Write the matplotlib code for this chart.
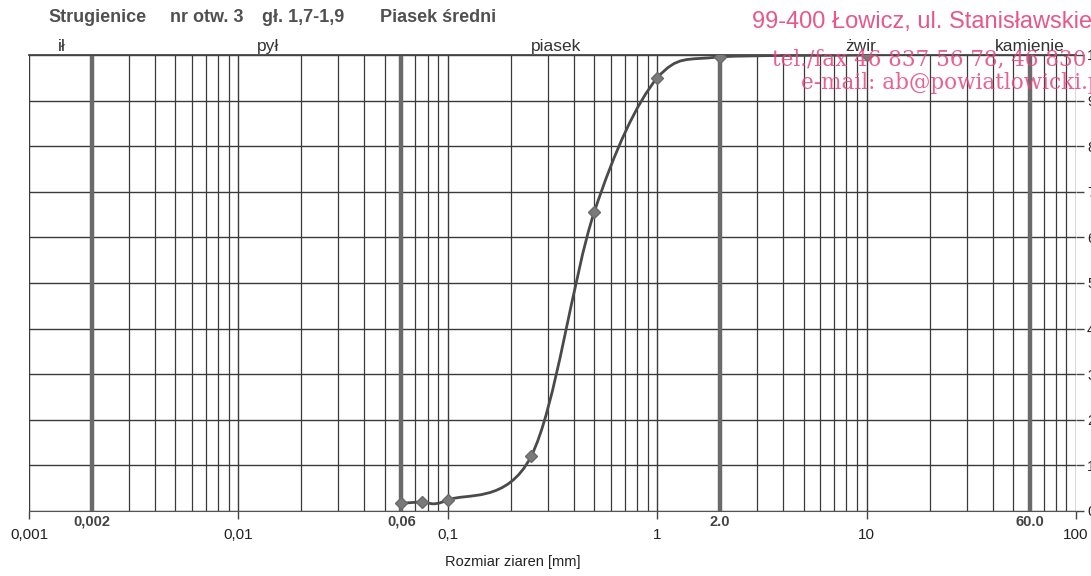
import numpy as np
import matplotlib
matplotlib.use("Agg")
import matplotlib.pyplot as plt
from matplotlib.path import Path
from matplotlib.patches import PathPatch

# ---- data ----
sizes_mm = [0.06, 0.075, 0.1, 0.25, 0.5, 1.0, 2.0, 10.0]
passing_pct = [1.7, 2.0, 2.4, 12.0, 65.5, 95.0, 99.6, 100.0]
fraction_bounds = [0.002, 0.06, 2.0, 60.0]
fraction_bound_labels = ["0,002", "0,06", "2.0", "60.0"]
fraction_names = ["ił", "pył", "piasek", "żwir", "kamienie"]
fraction_name_x = [0.00144, 0.0138, 0.33, 9.4, 60.0]
major_ticks = [0.001, 0.01, 0.1, 1, 10, 100]
major_tick_labels = ["0,001", "0,01", "0,1", "1", "10", "100"]
y_ticks = list(range(0, 101, 10))
title_parts = ["Strugienice", "nr otw. 3", "gł. 1,7-1,9", "Piasek średni"]
title_part_px = [48, 170, 262, 380]

plt.rcParams['font.family'] = ['Liberation Sans', 'DejaVu Sans']

fig = plt.figure(figsize=(10.91, 5.76), dpi=100)
ax = fig.add_axes([29/1091, 1 - 511/576, (1076-29)/1091, (511-55)/576])
ax.set_xscale('log')
ax.set_xlim(0.001, 100)
ax.set_ylim(0, 100)

grid_c = '#3a3a3a'
ax.xaxis.set_major_locator(matplotlib.ticker.FixedLocator(major_ticks))
ax.xaxis.set_minor_locator(matplotlib.ticker.LogLocator(base=10, subs=np.arange(2, 10)))
ax.grid(True, which='major', axis='x', color=grid_c, lw=1.0)
ax.grid(True, which='minor', axis='x', color=grid_c, lw=0.9)
ax.set_yticks(y_ticks)
ax.grid(True, which='major', axis='y', color=grid_c, lw=1.0)
ax.set_axisbelow(True)

ax.set_xticks(major_ticks)
ax.set_xticklabels(major_tick_labels, fontsize=11, color='#222222')
ax.tick_params(axis='x', which='major', length=6, width=1, color='#444444', pad=6)
ax.tick_params(axis='x', which='minor', length=0)
ax.yaxis.tick_right()
ax.set_yticklabels([str(v) for v in y_ticks], fontsize=10.5, color='#222222')
ax.tick_params(axis='y', length=6, width=1, color='#444444', pad=2)

for s in ['left', 'right']:
    ax.spines[s].set_visible(False)
ax.spines['bottom'].set_color('#555555')
ax.spines['top'].set_color('#444444')
ax.spines['top'].set_linewidth(1.3)

# thick fraction boundaries
for b, lab in zip(fraction_bounds, fraction_bound_labels):
    ax.axvline(b, color='#6a6a6a', lw=3.2, zorder=2)
    ax.text(b, -0.8, lab, ha='center', va='top', fontsize=10.5, fontweight='bold', color='#444444')

# fraction names above the plot
for nm, xx in zip(fraction_names, fraction_name_x):
    ax.text(xx, 100.2, nm, ha='center', va='bottom', fontsize=12.5, color='#333333')

# smoothed curve (Catmull-Rom Bezier in log-x space, like Excel smoothing)
lx = np.log10(sizes_mm)
py = np.array(passing_pct, dtype=float)
P = np.column_stack([lx, py])
n = len(P)
verts = [P[0]]
codes = [Path.MOVETO]
for i in range(n - 1):
    p0 = P[i - 1] if i > 0 else P[i]
    p1 = P[i]
    p2 = P[i + 1]
    p3 = P[i + 2] if i + 2 < n else P[i + 1]
    c1 = p1 + (p2 - p0) / 6.0
    c2 = p2 - (p3 - p1) / 6.0
    c1 = np.array([c1[0], min(c1[1], 100.0)])
    c2 = np.array([c2[0], min(c2[1], 100.0)])
    verts += [c1, c2, p2]
    codes += [Path.CURVE4] * 3
verts = np.array(verts)
verts[:, 0] = 10 ** verts[:, 0]
patch = PathPatch(Path(verts, codes), facecolor='none', edgecolor='#4a4a4a',
                  lw=2.0, transform=ax.transData, zorder=4)
ax.add_patch(patch)
ax.plot(sizes_mm, passing_pct, linestyle='none', marker='D', ms=6.5,
        color='#7a7a7a', mec='#6a6a6a', zorder=5)

fig.text(513/1091, 1 - 562/576, "Rozmiar ziaren [mm]", ha='center', va='center',
         fontsize=10.5, color='#222222')
for part, px in zip(title_parts, title_part_px):
    fig.text(px/1091, 1 - 18/576, part, ha='left', va='center', fontsize=13,
             fontweight='bold', color='#505050')

# stamp
stamp_c = '#e6457c'
fig.text(752/1091, 1 - 22/576, "99-400 Łowicz, ul. Stanisławskie 5", ha='left', va='center',
         fontsize=17, color=stamp_c, family=['Liberation Sans', 'DejaVu Sans'], alpha=0.9)
fig.text(772/1091, 1 - 59/576, "tel./fax 46 837 56 78, 46 830 11 11", ha='left', va='center',
         fontsize=15.5, color=stamp_c, family=['DejaVu Serif'], alpha=0.85)
fig.text(801/1091, 1 - 83/576, "e-mail: ab@powiatlowicki.pl", ha='left', va='center',
         fontsize=15.5, color=stamp_c, family=['DejaVu Serif'], alpha=0.85)

fig.savefig("out.png", dpi=100)
